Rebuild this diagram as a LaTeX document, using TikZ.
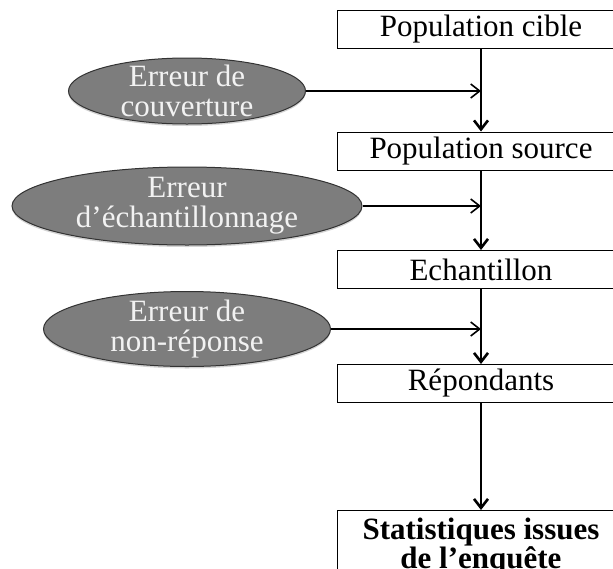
\documentclass[tikz,border=0pt]{standalone}
\usepackage{fontspec}
\setmainfont{Liberation Serif}
\usepackage{tikz}
\usetikzlibrary{arrows.meta,shapes.geometric,shadows}

\definecolor{errfill}{RGB}{125,125,125}
\definecolor{errtext}{RGB}{242,242,242}

\begin{document}
\begin{tikzpicture}[x=1pt,y=-1pt,>={Straight Barb[length=9pt,width=14pt]},
        box/.style={draw,line width=1pt,minimum width=288,minimum height=38,
            inner sep=0,font=\fontsize{31}{31}\selectfont},
        err/.style={ellipse,draw=black!80,line width=1pt,fill=errfill,
            text=errtext,align=center,inner sep=-20pt,
            font=\fontsize{31}{30}\selectfont,
            drop shadow={shadow xshift=0pt,shadow yshift=-2pt,opacity=0.35}},
        flow/.style={->,line width=2.6pt},
        feed/.style={->,line width=1.6pt}]

  \useasboundingbox (0,0) rectangle (613,568);
  \clip (0,0) rectangle (613,568);

  \node[box] (cible)  at (481,29)    {Population cible};
  \node[box] (source) at (481,151)   {Population source};
  \node[box] (echant) at (481,269.5) {Echantillon};
  \node[box] (repond) at (481,383.5) {Répondants};
  \node[box,anchor=north,align=center,minimum height=72,
        font=\fontsize{31}{28}\selectfont\bfseries] (stat) at (481,510)
        {Statistiques issues\\de l’enquête};

  \node[err,minimum width=237,minimum height=66] (couv)   at (187,91)
        {Erreur de\\couverture};
  \node[err,minimum width=350,minimum height=78] (echerr) at (187,206)
        {Erreur\\d’échantillonnage};
  \node[err,minimum width=287,minimum height=75] (nonrep) at (187,329)
        {Erreur de\\non-réponse};

  \coordinate (j1) at (couv -| cible);
  \coordinate (j2) at (echerr -| cible);
  \coordinate (j3) at (nonrep -| cible);

  \draw[flow] (cible) -- (source);
  \draw[flow] (source) -- (echant);
  \draw[flow] (echant) -- (repond);
  \draw[flow] (repond) -- (stat);

  \draw[feed] (couv) -- (j1);
  \draw[feed] (echerr) -- (j2);
  \draw[feed] (nonrep) -- (j3);

\end{tikzpicture}
\end{document}
